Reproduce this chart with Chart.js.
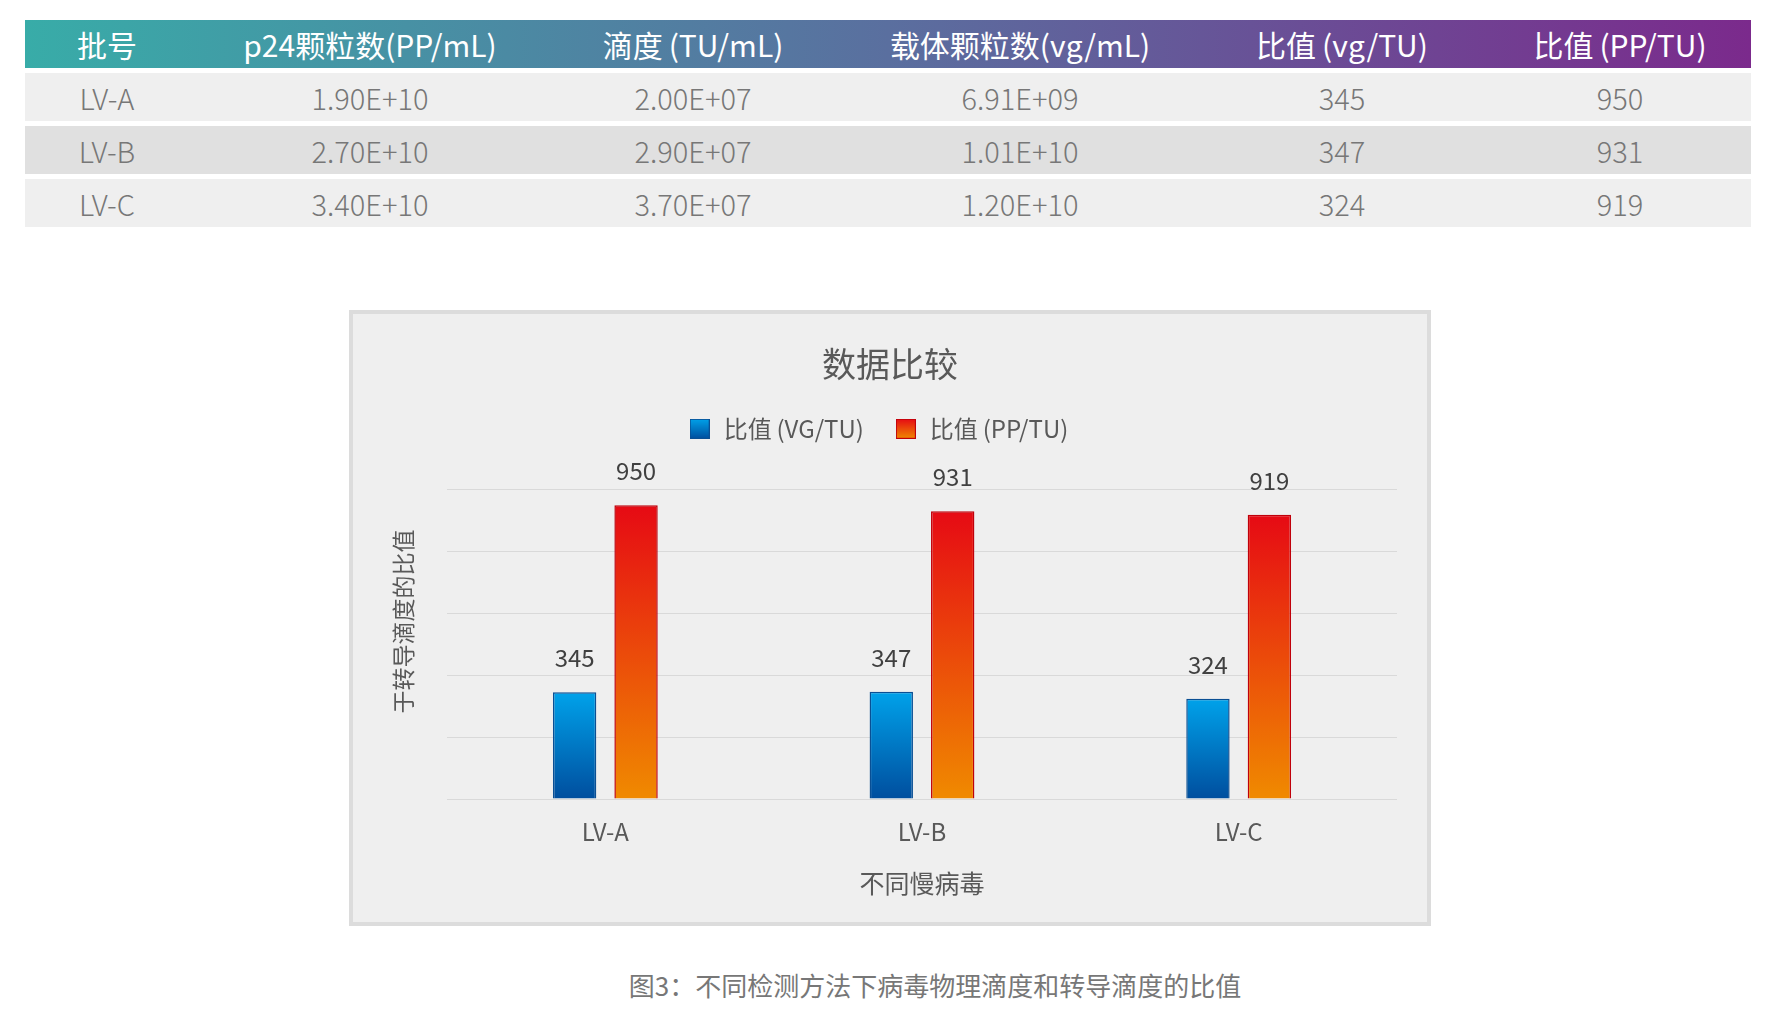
<!DOCTYPE html>
<html>
<head>
<meta charset="utf-8">
<script src="https://cdn.jsdelivr.net/npm/chart.js@4.4.1/dist/chart.umd.min.js"></script>
<style>
  body { margin: 0; background: #fff; font-family: "Noto Sans CJK SC", "Noto Sans", sans-serif; }
  .table { position: absolute; left: 25px; top: 20px; width: 1726px; }
  .row { display: flex; height: 48px; align-items: center; margin-bottom: 5px; overflow: hidden; }
  .row div { text-align: center; flex: none; }
  .head { background: linear-gradient(90deg, #38aca8 0%, #5a6f9f 50%, #7b2a8c 100%); color: #fff; font-size: 30px; }
  .body { color: #777; font-size: 29px; font-weight: 300; }
  .odd { background: #efefef; }
  .even { background: #e0e0e0; }
  .box { position: absolute; left: 349px; top: 310px; width: 1074px; height: 608px; border: 4px solid #dcdcdc; background: #efefef; }
  .caption { position: absolute; left: 0; width: 1870px; top: 966px; text-align: center; font-size: 26px; color: #777; }
</style>
</head>
<body>
<div class="table" id="table"></div>
<div class="box"><canvas id="chart"></canvas></div>
<div class="caption">图3：不同检测方法下病毒物理滴度和转导滴度的比值</div>
<script>
// table data
const headers = ['批号', 'p24颗粒数(PP/mL)', '滴度\u2009(TU/mL)', '载体颗粒数(vg/mL)', '比值\u2009(vg/TU)', '比值\u2009(PP/TU)'];
const batches = ['LV-A', 'LV-B', 'LV-C'];
const p24 = ['1.90E+10', '2.70E+10', '3.40E+10'];
const titer = ['2.00E+07', '2.90E+07', '3.70E+07'];
const vgCount = ['6.91E+09', '1.01E+10', '1.20E+10'];
const ratioVG = [345, 347, 324];
const ratioPP = [950, 931, 919];

// chart labels
const seriesNames = ['比值\u2009(VG/TU)', '比值\u2009(PP/TU)\u3000'];
const yTicks = [0, 200, 400, 600, 800, 1000];

const colWidths = [164, 362, 284, 370, 274, 282];

const table = document.getElementById('table');
const addRow = (cells, cls) => {
    const row = document.createElement('div');
    row.className = 'row ' + cls;
    cells.forEach((c, i) => {
        const d = document.createElement('div');
        d.style.width = colWidths[i] + 'px';
        d.textContent = c;
        row.appendChild(d);
    });
    table.appendChild(row);
};
addRow(headers, 'head');
batches.forEach((b, i) => {
    addRow([b, p24[i], titer[i], vgCount[i], ratioVG[i], ratioPP[i]], 'body ' + (i % 2 ? 'even' : 'odd'));
});

// gradients
const blueStops = ['#00a2ea', '#004e9e'];
const redStops = ['#e60a14', '#f08a00'];

const barFill = (stops) => (c) => {
    const chart = c.chart;
    if (!chart.chartArea || c.type !== 'data') return stops[0];
    const y = chart.scales.y;
    const top = y.getPixelForValue(c.raw);
    const base = y.getPixelForValue(0);
    const g = chart.ctx.createLinearGradient(0, top, 0, base);
    g.addColorStop(0, stops[0]);
    g.addColorStop(1, stops[1]);
    return g;
};

const legendIcon = (stops, border) => {
    const cv = document.createElement('canvas');
    cv.width = 20; cv.height = 20;
    const x = cv.getContext('2d');
    const g = x.createLinearGradient(0, 0, 0, 20);
    g.addColorStop(0, stops[0]);
    g.addColorStop(1, stops[1]);
    x.fillStyle = g;
    x.fillRect(0, 0, 20, 20);
    x.strokeStyle = border;
    x.lineWidth = 1;
    x.strokeRect(0.5, 0.5, 19, 19);
    return cv;
};
const icons = [legendIcon(blueStops, '#0a4f94'), legendIcon(redStops, '#c0000a')];

// value labels above bars
const valueLabels = {
    id: 'valueLabels',
    afterDatasetsDraw(chart) {
        const ctx = chart.ctx;
        ctx.save();
        ctx.font = '24px "Noto Sans CJK SC"';
        ctx.fillStyle = '#404040';
        ctx.textAlign = 'center';
        ctx.textBaseline = 'middle';
        chart.data.datasets.forEach((ds, di) => {
            chart.getDatasetMeta(di).data.forEach((bar, i) => {
                ctx.fillText(ds.data[i], bar.x, bar.y - 34);
            });
        });
        ctx.restore();
    }
};

// extra room under the legend
const legendGap = {
    id: 'legendGap',
    beforeInit(chart) {
        const fit = chart.legend.fit;
        chart.legend.fit = function () {
            fit.bind(chart.legend)();
            this.height += 39;
        };
    }
};

new Chart(document.getElementById('chart'), {
    type: 'bar',
    data: {
        labels: batches,
        datasets: [{
            label: seriesNames[0],
            data: ratioVG,
            backgroundColor: barFill(blueStops),
            borderColor: '#0a4f94',
            borderWidth: 1.5,
            categoryPercentage: 0.388,
            barPercentage: 0.706
        }, {
            label: seriesNames[1],
            data: ratioPP,
            backgroundColor: barFill(redStops),
            borderColor: '#c0000a',
            borderWidth: 1.5,
            categoryPercentage: 0.388,
            barPercentage: 0.706
        }]
    },
    options: {
        responsive: true,
        maintainAspectRatio: false,
        animation: false,
        layout: { padding: { left: 30, right: 30, top: 0, bottom: 0 } },
        plugins: {
            title: {
                display: true,
                text: '数据比较',
                color: '#595959',
                font: { family: 'Noto Sans CJK SC', size: 34, weight: 'normal' },
                padding: { top: 30, bottom: 2 }
            },
            legend: {
                labels: {
                    color: '#595959',
                    font: { family: 'Noto Sans CJK SC', size: 24 },
                    padding: 30,
                    usePointStyle: true,
                    generateLabels: (chart) => chart.data.datasets.map((ds, i) => ({
                        text: ds.label,
                        pointStyle: icons[i],
                        fontColor: '#595959',
                        datasetIndex: i
                    }))
                }
            },
            tooltip: { enabled: false }
        },
        scales: {
            x: {
                grid: { display: false, drawTicks: false },
                border: { display: false },
                ticks: { color: '#595959', font: { family: 'Noto Sans CJK SC', size: 24 }, padding: 18 },
                title: {
                    display: true,
                    text: '不同慢病毒',
                    color: '#595959',
                    font: { family: 'Noto Sans CJK SC', size: 25 },
                    padding: { top: 0, bottom: 24 }
                },
                afterFit: (s) => { s.height = 123; }
            },
            y: {
                min: yTicks[0],
                max: yTicks[yTicks.length - 1],
                afterBuildTicks: (s) => { s.ticks = yTicks.map(v => ({ value: v })); },
                grid: { color: '#d9d9d9', lineWidth: 1, drawTicks: false },
                border: { display: false },
                ticks: { display: false },
                title: {
                    display: true,
                    text: '\u3000\u3000于转导滴度的比值',
                    color: '#595959',
                    font: { family: 'Noto Sans CJK SC', size: 23 },
                    padding: { top: 6, bottom: 0 }
                },
                afterFit: (s) => { s.width = 64; }
            }
        }
    },
    plugins: [valueLabels, legendGap]
});
</script>
</body>
</html>
